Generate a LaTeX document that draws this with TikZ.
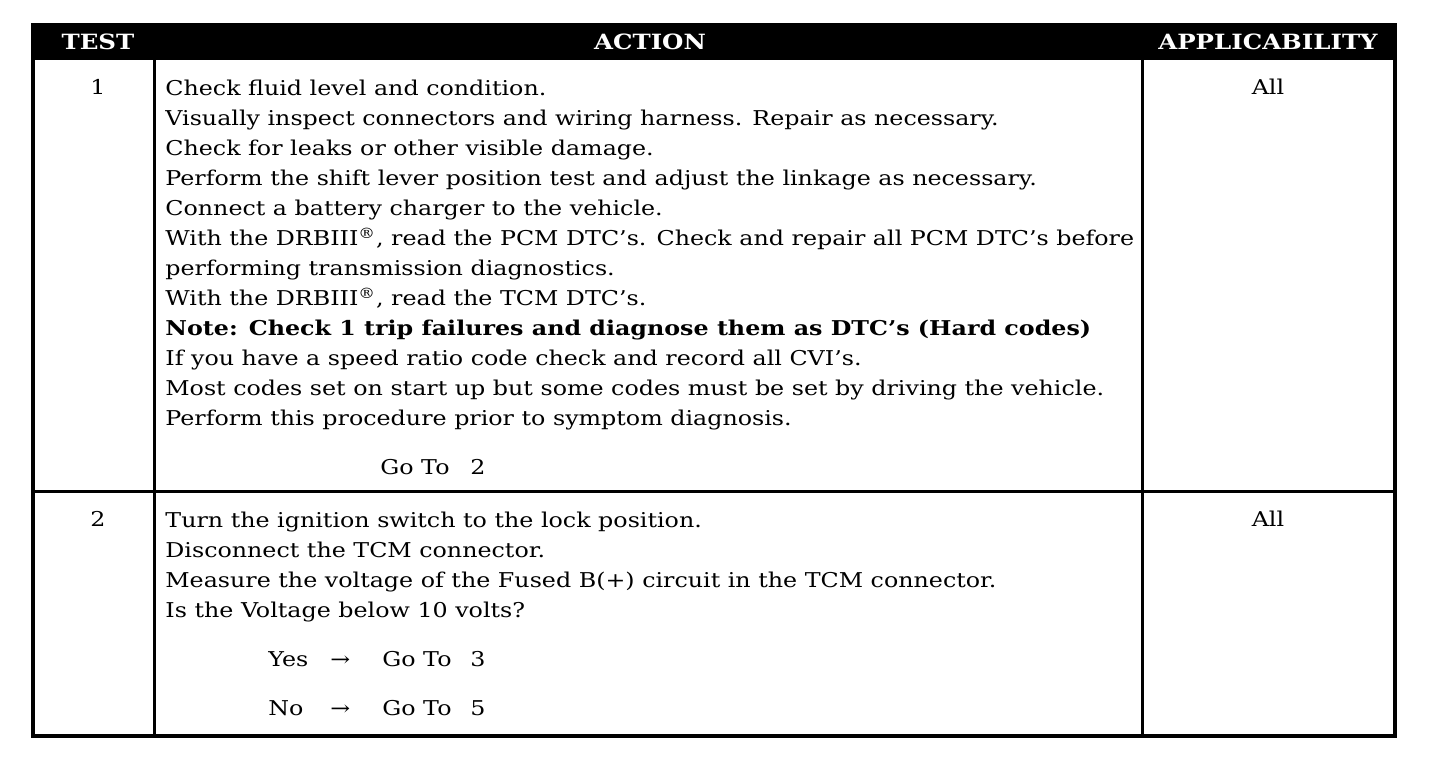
\documentclass[tikz,border=0pt]{standalone}
\usepackage{fontspec}
\setmainfont[FakeStretch=1.165]{DejaVu Serif}
\usetikzlibrary{positioning}

\definecolor{inkBlack}{RGB}{0, 0, 0}
\definecolor{paperWhite}{RGB}{255, 255, 255}

\tikzset{
    outerRule/.style={
        draw=inkBlack,
        line width=2pt
    },
    innerRule/.style={
        draw=inkBlack,
        line width=1.5pt
    },
    headText/.style={
        text=paperWhite,
        font=\bfseries\fontsize{10.5}{12}\selectfont,
        anchor=base,
        inner sep=0pt
    },
    numText/.style={
        text=inkBlack,
        font=\fontsize{10.2}{15}\selectfont,
        anchor=base,
        inner sep=0pt
    },
    cellText/.style={
        text=inkBlack,
        font=\fontsize{10.2}{15}\selectfont,
        align=left,
        anchor=north west,
        inner sep=0pt
    },
    gotoText/.style={
        text=inkBlack,
        font=\fontsize{10.2}{15}\selectfont,
        anchor=base west,
        inner sep=0pt
    }
}

\begin{document}
\begin{tikzpicture}[x=0.5pt, y=-0.5pt]
    \useasboundingbox (0,0) rectangle (1456,774);
    \fill[paperWhite] (0,0) rectangle (1456,774);

    % Header band
    \fill[inkBlack] (33,25) rectangle (1395,60);
    \node[headText] (hTest) at (98,50) {TEST};
    \node[headText] (hAction) at (650,50) {ACTION};
    \node[headText] (hApply) at (1268,50) {APPLICABILITY};

    % Table rules
    \draw[outerRule] (33,25) rectangle (1395,736);
    \draw[innerRule] (154,60) -- (154,736);
    \draw[innerRule] (1142,60) -- (1142,736);
    \draw[innerRule] (33,492) -- (1395,492);

    % Test 1
    \node[numText] (num1) at (98,95) {1};
    \node[numText] (all1) at (1268,95) {All};
    \node[cellText] (act1) at (165,80) {
        Check fluid level and condition.\\
        Visually inspect connectors and wiring harness. Repair as necessary.\\
        Check for leaks or other visible damage.\\
        Perform the shift lever position test and adjust the linkage as necessary.\\
        Connect a battery charger to the vehicle.\\
        With the DRBIII\textsuperscript{®}, read the PCM DTC's. Check and repair all PCM DTC's before\\
        performing transmission diagnostics.\\
        With the DRBIII\textsuperscript{®}, read the TCM DTC's.\\
        \textbf{Note: Check 1 trip failures and diagnose them as DTC's (Hard codes)}\\
        If you have a speed ratio code check and record all CVI's.\\
        Most codes set on start up but some codes must be set by driving the vehicle.\\
        Perform this procedure prior to symptom diagnosis.
    };
    \node[gotoText] (go1) at (380,475) {Go To};
    \node[gotoText] (go1n) at (470,475) {2};

    % Test 2
    \node[numText] (num2) at (98,527) {2};
    \node[numText] (all2) at (1268,527) {All};
    \node[cellText] (act2) at (165,512) {
        Turn the ignition switch to the lock position.\\
        Disconnect the TCM connector.\\
        Measure the voltage of the Fused B(+) circuit in the TCM connector.\\
        Is the Voltage below 10 volts?
    };
    \node[gotoText] (yes) at (268,666) {Yes};
    \node[gotoText] (yesArr) at (330,666) {→};
    \node[gotoText] (yesGo) at (382,666) {Go To};
    \node[gotoText] (yesN) at (470,666) {3};
    \node[gotoText] (no) at (268,715) {No};
    \node[gotoText] (noArr) at (330,715) {→};
    \node[gotoText] (noGo) at (382,715) {Go To};
    \node[gotoText] (noN) at (470,715) {5};
\end{tikzpicture}
\end{document}
